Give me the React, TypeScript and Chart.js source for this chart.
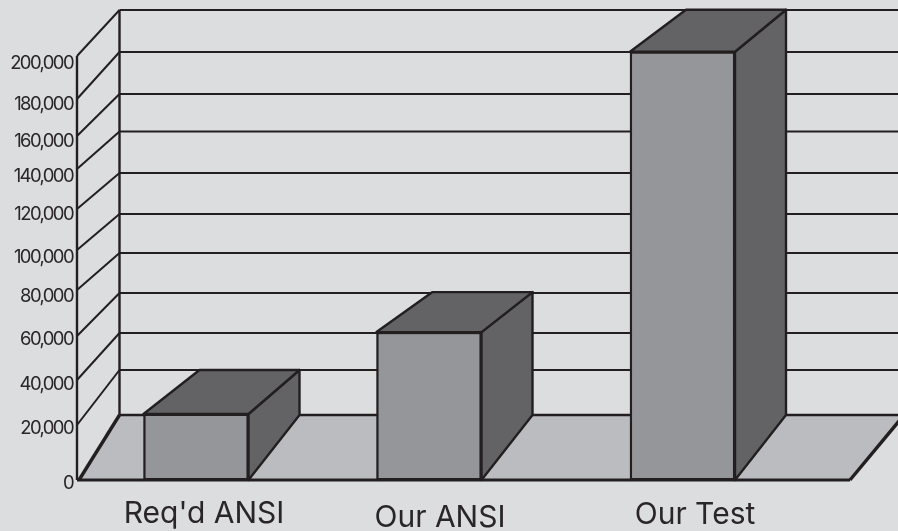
import React, { useEffect, useRef } from "react";
import Chart from "chart.js/auto";
import { LinearScale, CategoryScale } from "chart.js";

// ---- data ----
const categories = ["Req'd ANSI", "Our ANSI", "Our Test"];
const strengthValues = [24900, 61700, 202000];
const tickValues = [0, 20000, 40000, 60000, 80000, 100000, 120000, 140000, 160000, 180000, 200000];

// ---- layout of the hand-drawn (non-uniform) axis ----
const frontTickPixels = [480, 425, 380, 336, 290, 250, 209, 169, 136, 99, 56];
const backTickPixels = [415, 370, 333, 293, 253, 214, 173, 131.5, 94, 52, 10];
const yLabelNudges = [3, 3, 4, 3, 6, 7, 5, 7, 5, 5, 7];
const barCentres = [196, 429, 682.5];
const xLabelCentres = [204, 440, 695];
const xLabelNudges = [0, 4, 1];
const topLift = [44, 40, 42];

const INK = "#231f20";
const BG = "#dcdddf";
const FLOOR = "#bbbcbf";
const FRONT = "#959699";
const DARK = "#636365";
const BACK_X = 119.5;
const FRONT_X = 77;
const BACK_Y = 415;
const FLOOR_RIGHT = 850;
const BACK_LEFT_DX = 56;
const BACK_RIGHT_DX = 51;

class KnottedScale extends LinearScale {
  static id = "knotted";
  static defaults = LinearScale.defaults;
  getPixelForValue(v: number) {
    const n = tickValues.length;
    let i = 0;
    while (i < n - 2 && v > tickValues[i + 1]) i++;
    const t = (v - tickValues[i]) / (tickValues[i + 1] - tickValues[i]);
    return frontTickPixels[i] + t * (frontTickPixels[i + 1] - frontTickPixels[i]);
  }
  _computeLabelItems(area: any) {
    const items = (super._computeLabelItems as any)(area);
    items.forEach((it: any, i: number) => {
      it.options.translation[1] += yLabelNudges[i] || 0;
    });
    return items;
  }
  drawLabels(area: any) {
    const ctx = (this as any).ctx;
    ctx.letterSpacing = "-1.6px";
    (super.drawLabels as any)(area);
    ctx.letterSpacing = "0px";
  }
}

class PlacedCategoryScale extends CategoryScale {
  static id = "placedCategory";
  static defaults = CategoryScale.defaults;
  getPixelForValue(v: any, index?: number) {
    const i = typeof v === "number" ? v : index ?? 0;
    return barCentres[i];
  }
  _computeLabelItems(area: any) {
    const items = (super._computeLabelItems as any)(area);
    items.forEach((it: any, i: number) => {
      it.options.translation[0] = xLabelCentres[i];
      it.options.translation[1] += xLabelNudges[i] || 0;
    });
    return items;
  }
}

Chart.register(KnottedScale as any, PlacedCategoryScale as any);

function poly(ctx: CanvasRenderingContext2D, pts: number[][], fill?: string, stroke?: string, lw = 2) {
  ctx.beginPath();
  pts.forEach((p, i) => (i ? ctx.lineTo(p[0], p[1]) : ctx.moveTo(p[0], p[1])));
  ctx.closePath();
  if (fill) {
    ctx.fillStyle = fill;
    ctx.fill();
  }
  if (stroke) {
    ctx.strokeStyle = stroke;
    ctx.lineWidth = lw;
    ctx.lineJoin = "round";
    ctx.stroke();
  }
}

function line(ctx: CanvasRenderingContext2D, x1: number, y1: number, x2: number, y2: number, lw: number) {
  ctx.beginPath();
  ctx.moveTo(x1, y1);
  ctx.lineTo(x2, y2);
  ctx.strokeStyle = INK;
  ctx.lineWidth = lw;
  ctx.lineCap = "butt";
  ctx.stroke();
}

const box3d = {
  id: "box3d",
  beforeDraw(chart: any) {
    const { ctx, width, height } = chart;
    ctx.save();
    ctx.fillStyle = BG;
    ctx.fillRect(0, 0, width, height);
    ctx.restore();
  },
  beforeDatasetsDraw(chart: any) {
    const { ctx, width, scales } = chart;
    const y = scales.y;
    const zeroY = y.getPixelForValue(0);
    ctx.save();
    // walls
    backTickPixels.forEach((by, i) => {
      if (i > 0) line(ctx, BACK_X, by, width, by, 2);
      if (i > 0) line(ctx, BACK_X, by, FRONT_X, y.getPixelForValue(tickValues[i]), 2);
    });
    line(ctx, BACK_X, 10, BACK_X, BACK_Y, 2.4);
    line(ctx, FRONT_X, frontTickPixels[frontTickPixels.length - 1], FRONT_X, zeroY, 2.4);
    // floor
    const dxEdge = 54;
    poly(ctx, [[FRONT_X + 2, zeroY], [BACK_X, BACK_Y], [FLOOR_RIGHT + dxEdge, BACK_Y], [FLOOR_RIGHT, zeroY]], FLOOR);
    line(ctx, BACK_X, BACK_Y, width, BACK_Y, 2.6);
    line(ctx, FRONT_X + 2, zeroY, BACK_X, BACK_Y, 3.4);
    line(ctx, FLOOR_RIGHT, zeroY, FLOOR_RIGHT + dxEdge, BACK_Y, 3.4);
    line(ctx, FRONT_X, zeroY, FLOOR_RIGHT, zeroY, 3);
    // depth faces of each bar
    chart.getDatasetMeta(0).data.forEach((bar: any, i: number) => {
      const l = bar.x - bar.width / 2;
      const r = bar.x + bar.width / 2;
      const t = bar.y;
      const b = bar.base;
      const lift = topLift[i];
      const bl = l + BACK_LEFT_DX;
      const br = r + BACK_RIGHT_DX;
      poly(ctx, [[r, t], [br, t - lift], [br, BACK_Y], [r, b]], DARK, INK, 2.4);
      poly(ctx, [[l, t], [bl, t - lift], [br, t - lift], [r, t]], DARK, INK, 2.4);
    });
    ctx.restore();
  },
};

export default function App() {
  const ref = useRef<HTMLCanvasElement | null>(null);
  useEffect(() => {
    document.body.style.margin = "0";
    document.body.style.background = BG;
    const chart = new Chart(ref.current as HTMLCanvasElement, {
      type: "bar",
      data: {
        labels: categories,
        datasets: [
          {
            label: "Strength",
            data: strengthValues,
            backgroundColor: FRONT,
            borderColor: INK,
            borderWidth: 2.4,
            borderSkipped: false,
            barThickness: 105,
            clip: false,
          } as any,
        ],
      },
      options: {
        responsive: false,
        animation: false,
        devicePixelRatio: 1,
        layout: { padding: { top: 10, left: 0, right: 0, bottom: 0 } },
        plugins: { legend: { display: false }, tooltip: { enabled: false } },
        scales: {
          x: {
            type: "placedCategory",
            grid: { display: false, drawTicks: false },
            border: { display: false },
            ticks: {
              color: "#2a2627",
              padding: 16,
              maxRotation: 0,
              autoSkip: false,
              font: { family: "Inter", size: 30, weight: "400" },
            },
            afterFit: (s: any) => {
              s.height = 51;
            },
          },
          y: {
            type: "knotted",
            min: 0,
            max: 200000,
            grid: { display: false, drawTicks: false },
            border: { display: false },
            ticks: {
              stepSize: 20000,
              autoSkip: false,
              color: "#2a2627",
              padding: 4,
              font: { family: "Inter", size: 18.5, weight: "400" },
              callback: (v: any) => Number(v).toLocaleString("en-US"),
            },
            afterFit: (s: any) => {
              s.width = FRONT_X;
            },
          },
        } as any,
      },
      plugins: [box3d as any],
    });
    return () => chart.destroy();
  }, []);
  return <canvas ref={ref} width={898} height={531} style={{ display: "block" }} />;
}
